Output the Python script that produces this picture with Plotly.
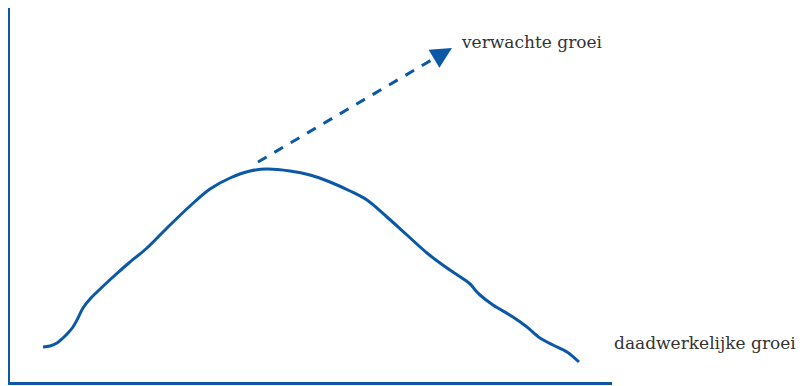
import plotly.graph_objects as go

# actual growth curve (time units, growth units)
actual_x = [35, 42, 49, 55, 60, 65, 70, 75, 82, 89, 105, 122, 139, 159, 182, 202, 222, 242, 259, 282, 302, 322, 342, 359, 379, 399, 419, 439, 454, 461, 464, 468, 472, 485, 505, 519, 532, 545, 559, 571]
actual_y = [36, 37, 40, 45, 50, 56, 65, 75, 84, 91, 106, 121, 135, 155, 177, 194, 205, 212, 214, 212, 208, 201, 192, 183, 166, 148, 130, 115, 105, 100, 97, 92, 88, 78, 66, 56, 45, 38, 31, 21]

# expected growth (dashed arrow)
expected_x = [250, 432]
expected_y = [221, 328]
arrow_tip = (444, 335)

label_expected = "verwachte groei"
label_actual = "daadwerkelijke groei"

x_range = [2, 604]
y_range = [1, 375]

blue = "#0a58a6"
text_font = dict(family="DejaVu Serif", size=17, color="#333333")


def paper_x(v):
    return (v - x_range[0]) / (x_range[1] - x_range[0])


def paper_y(v):
    return (v - y_range[0]) / (y_range[1] - y_range[0])


fig = go.Figure()
fig.add_trace(go.Scatter(x=actual_x, y=actual_y, mode="lines",
                         line=dict(color=blue, width=3, shape="spline", smoothing=0.9),
                         hoverinfo="skip", showlegend=False))
fig.add_trace(go.Scatter(x=expected_x, y=expected_y, mode="lines",
                         line=dict(color=blue, width=3, dash="10px,9px"),
                         hoverinfo="skip", showlegend=False))
fig.add_annotation(x=arrow_tip[0], y=arrow_tip[1], ax=expected_x[-1] - 3, ay=expected_y[-1] - 2,
                   xref="x", yref="y", axref="x", ayref="y", text="", showarrow=True,
                   arrowhead=2, arrowsize=1.4, arrowwidth=3, arrowcolor=blue)
fig.add_annotation(x=paper_x(451), y=paper_y(341), xref="paper", yref="paper",
                   text=label_expected, showarrow=False,
                   xanchor="left", yanchor="middle", font=text_font)
fig.add_annotation(x=paper_x(604), y=paper_y(40), xref="paper", yref="paper",
                   text=label_actual, showarrow=False,
                   xanchor="left", yanchor="middle", font=text_font)

fig.update_layout(
    width=806, height=386,
    margin=dict(l=2, r=202, t=0, b=12, pad=0),
    paper_bgcolor="white", plot_bgcolor="white",
    xaxis=dict(range=x_range, showgrid=False, zeroline=False, showticklabels=False, ticks="",
               showline=True, linecolor=blue, linewidth=3),
    yaxis=dict(range=y_range, showgrid=False, zeroline=False, showticklabels=False, ticks="",
               showline=True, linecolor=blue, linewidth=3),
)
fig.write_html("out.html")
